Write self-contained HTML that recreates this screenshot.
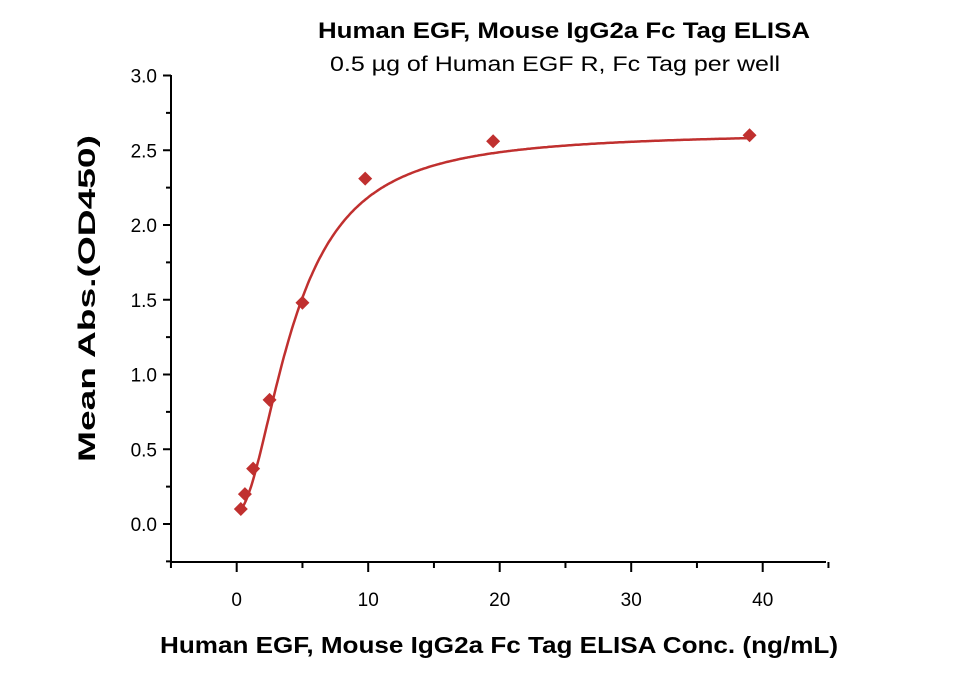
<!DOCTYPE html>
<html><head><meta charset="utf-8"><style>
html,body{margin:0;padding:0;background:#fff;}
svg text{font-family:"Liberation Sans",sans-serif;fill:#000;}
</style></head><body>
<svg id="s" width="960" height="674" viewBox="0 0 960 674" xmlns="http://www.w3.org/2000/svg">
<text x="318" y="38" font-size="22" font-weight="bold" textLength="492" lengthAdjust="spacingAndGlyphs">Human EGF, Mouse IgG2a Fc Tag ELISA</text>
<text x="330" y="71" font-size="21" textLength="450" lengthAdjust="spacingAndGlyphs">0.5 µg of Human EGF R, Fc Tag per well</text>
<g stroke="#000" stroke-width="2" fill="none">
<line x1="171" y1="75" x2="171" y2="563"/>
<line x1="170" y1="562" x2="826" y2="562"/>
</g>
<g id="ticks" stroke="#000" stroke-width="2"></g>
<g id="labels" font-size="19"></g>
<text transform="translate(95,462) rotate(-90)" font-size="24" font-weight="bold" textLength="327" lengthAdjust="spacingAndGlyphs">Mean Abs.(OD450)</text>
<text x="160" y="653" font-size="23" font-weight="bold" textLength="678" lengthAdjust="spacingAndGlyphs">Human EGF, Mouse IgG2a Fc Tag ELISA Conc. (ng/mL)</text>
<path id="curve" stroke="#c0302f" stroke-width="2.5" fill="none"/>
<g id="pts" fill="#c0302f"></g>
</svg>
<script>
var X=function(v){return 236.7+v*13.15;},Y=function(v){return 524-v*149.5;};
var t=document.getElementById('ticks'),l=document.getElementById('labels'),ns='http://www.w3.org/2000/svg';
function el(p,n,a,txt){var e=document.createElementNS(ns,n);for(var k in a)e.setAttribute(k,a[k]);if(txt)e.textContent=txt;p.appendChild(e);}
for(var i=-5;i<=45;i+=5){var maj=(i%10===0);el(t,'line',{x1:X(i),x2:X(i),y1:562,y2:maj?572:568});if(maj)el(l,'text',{x:X(i),y:606,'text-anchor':'middle'},String(i));}
for(var j=-0.25;j<=3.001;j+=0.25){var m=Math.abs(j*2-Math.round(j*2))<1e-6;el(t,'line',{x1:m?163:166,x2:171,y1:Y(j),y2:Y(j)});if(m)el(l,'text',{x:157,y:Y(j)+7,'text-anchor':'end'},j.toFixed(1));}
var d='';for(var x=0.3;x<=39.01;x+=0.1){var h=Math.pow(x/4.36,1.9);var y=0.08+2.54*h/(1+h);d+=(d?'L':'M')+X(x).toFixed(1)+','+Y(y).toFixed(1);}
document.getElementById('curve').setAttribute('d',d);
var P=[[0.3125,0.1],[0.625,0.2],[1.25,0.37],[2.5,0.83],[5,1.48],[9.77,2.31],[19.5,2.56],[39,2.6]];
P.forEach(function(p){var cx=X(p[0]),cy=Y(p[1]),r=7;el(document.getElementById('pts'),'polygon',{points:(cx)+','+(cy-r)+' '+(cx+r)+','+cy+' '+cx+','+(cy+r)+' '+(cx-r)+','+cy});});
</script>
</body></html>
